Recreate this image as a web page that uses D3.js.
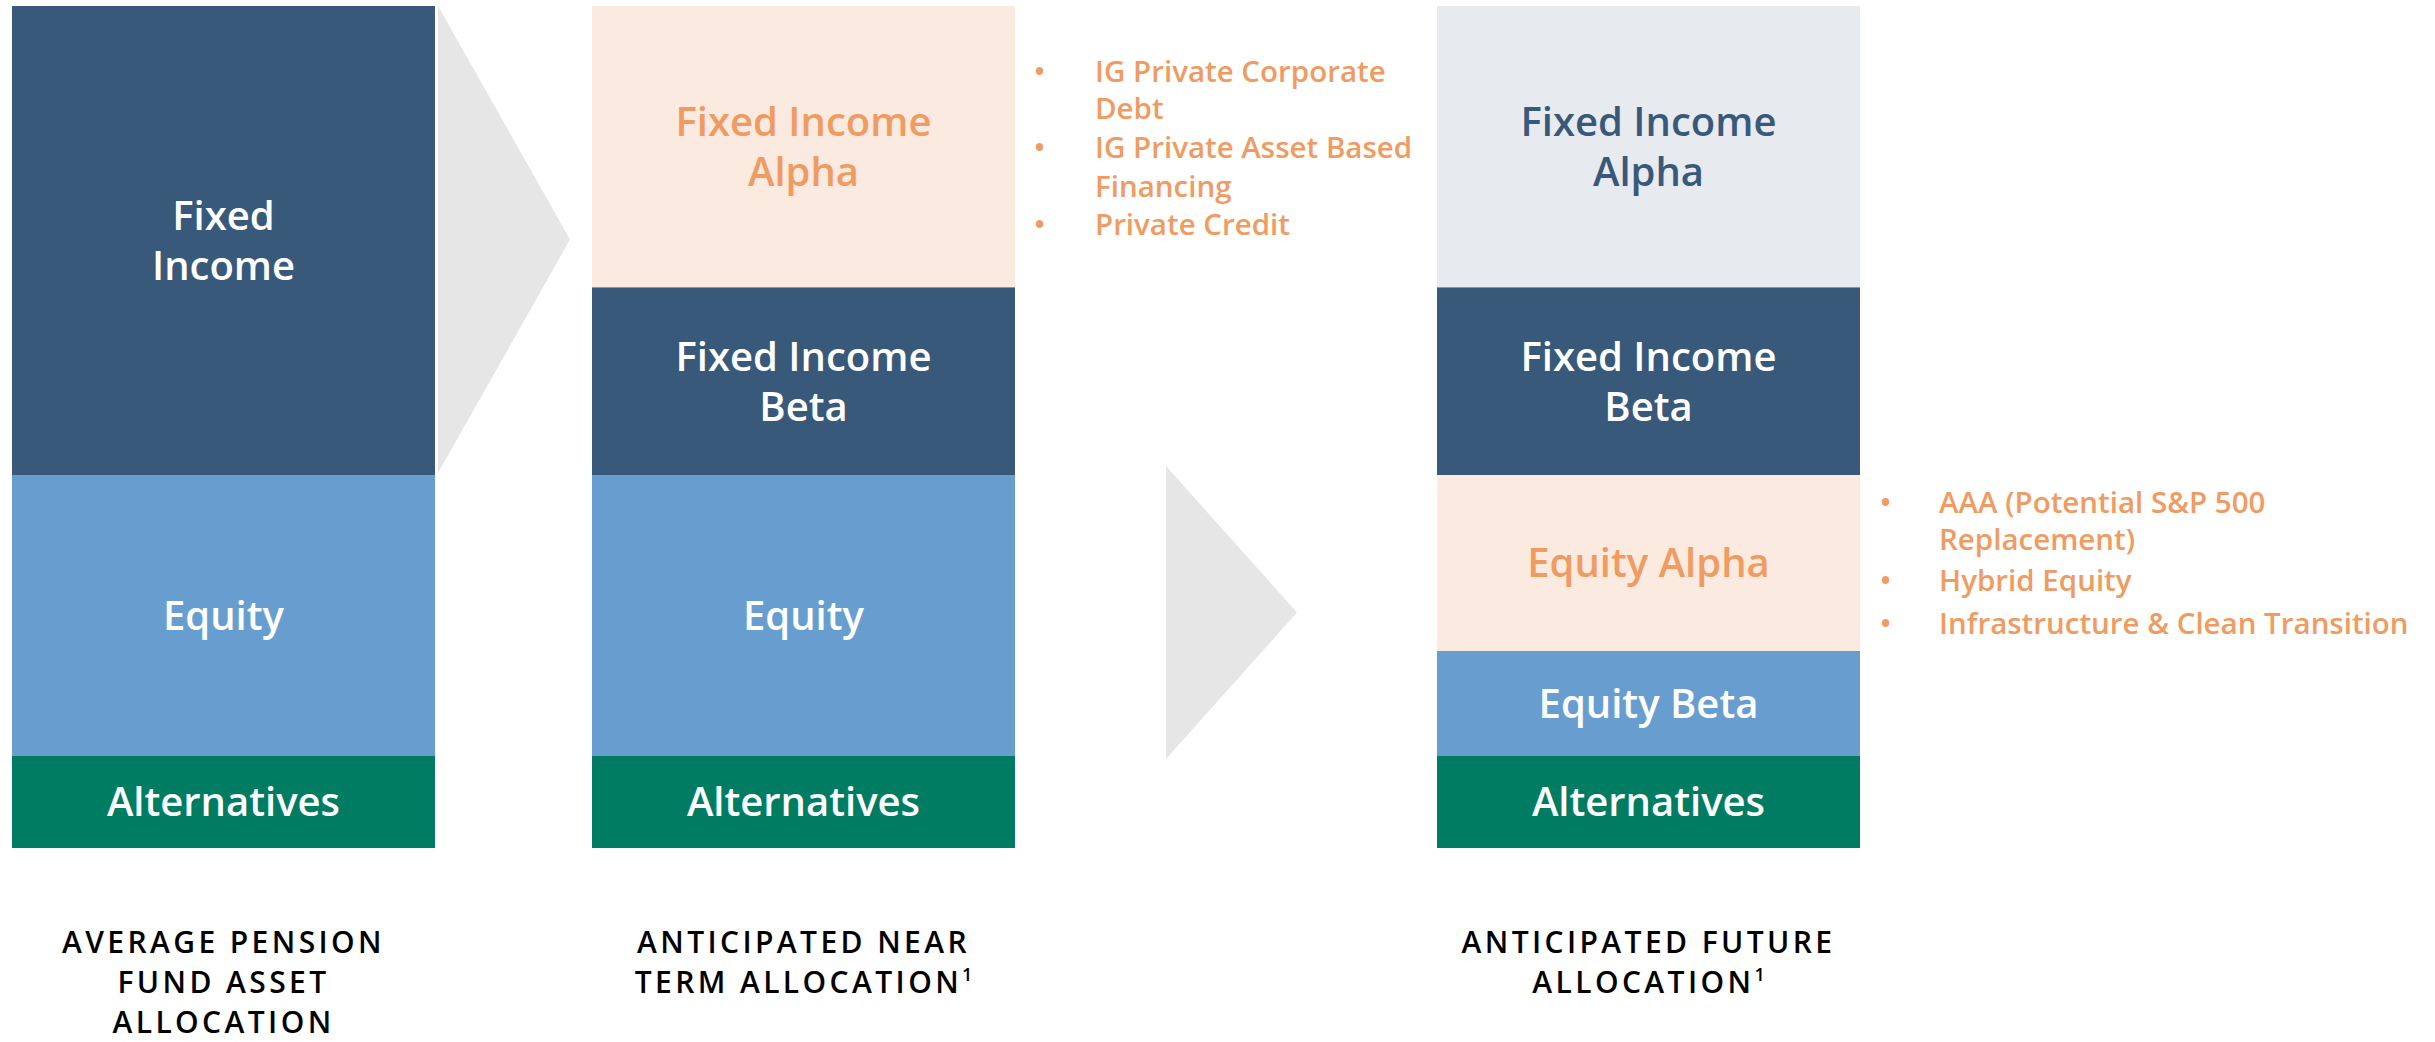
<!DOCTYPE html>
<html>
<head>
<meta charset="utf-8">
<script src="https://cdn.jsdelivr.net/npm/d3@7"></script>
<style>
  html, body { margin: 0; padding: 0; background: #ffffff; }
  svg { display: block; }
  text { font-family: "Open Sans", "Noto Sans", sans-serif; }
</style>
</head>
<body>
<svg id="chart" width="2435" height="1042"></svg>
<script>
// ---- Data ----
const columns = ["avg", "near", "future"];
const columnTitles = [
  ["AVERAGE PENSION", "FUND ASSET", "ALLOCATION"],
  ["ANTICIPATED NEAR", "TERM ALLOCATION¹"],
  ["ANTICIPATED FUTURE", "ALLOCATION¹"]
];
// segments listed bottom to top, values in % of the bar
const avgSegments = [
  { label: ["Alternatives"], value: 11.0, kind: "alt" },
  { label: ["Equity"], value: 33.3, kind: "eq" },
  { label: ["Fixed", "Income"], value: 55.7, kind: "fi" }
];
const nearSegments = [
  { label: ["Alternatives"], value: 11.0, kind: "alt" },
  { label: ["Equity"], value: 33.3, kind: "eq" },
  { label: ["Fixed Income", "Beta"], value: 22.3, kind: "fi" },
  { label: ["Fixed Income", "Alpha"], value: 33.4, kind: "alphaOrange" }
];
const futureSegments = [
  { label: ["Alternatives"], value: 11.0, kind: "alt" },
  { label: ["Equity Beta"], value: 12.4, kind: "eq" },
  { label: ["Equity Alpha"], value: 20.9, kind: "alphaOrange" },
  { label: ["Fixed Income", "Beta"], value: 22.3, kind: "fi" },
  { label: ["Fixed Income", "Alpha"], value: 33.4, kind: "alphaGray" }
];
const nearBullets = [
  ["IG Private Corporate", "Debt"],
  ["IG Private Asset Based", "Financing"],
  ["Private Credit"]
];
const futureBullets = [
  ["AAA (Potential S&P 500", "Replacement)"],
  ["Hybrid Equity"],
  ["Infrastructure & Clean Transition"]
];

// ---- Styles ----
const fills = { alt: "#007C63", eq: "#689ECF", fi: "#385979", alphaOrange: "#FBEADF", alphaGray: "#E7EAEF" };
const textColors = { alt: "#ffffff", eq: "#ffffff", fi: "#ffffff", alphaOrange: "#F09B62", alphaGray: "#385979" };
const orange = "#F09B62";

// ---- Layout ----
const svg = d3.select("#chart");
const barW = 423;
const x = d3.scaleOrdinal().domain(columns).range([12, 592, 1437]);
const y = d3.scaleLinear().domain([0, 100]).range([848, 6]);

const allSegments = { avg: avgSegments, near: nearSegments, future: futureSegments };

columns.forEach((col, ci) => {
  const segs = allSegments[col];
  let acc = 0;
  const stacked = segs.map(s => { const r = { ...s, y0: acc, y1: acc + s.value }; acc += s.value; return r; });
  const g = svg.append("g");
  g.selectAll("rect").data(stacked).join("rect")
    .attr("x", x(col))
    .attr("width", barW)
    .attr("y", d => y(d.y1))
    .attr("height", d => y(d.y0) - y(d.y1))
    .attr("fill", d => fills[d.kind]);

  const fs = 40, lh = 50;
  stacked.forEach(d => {
    const cy = (y(d.y0) + y(d.y1)) / 2;
    const n = d.label.length;
    const t = g.append("text")
      .attr("text-anchor", "middle")
      .attr("font-size", fs)
      .attr("font-weight", 600)
      .attr("fill", textColors[d.kind]);
    d.label.forEach((line, i) => {
      t.append("tspan")
        .attr("x", x(col) + barW / 2)
        .attr("y", cy + (i - (n - 1) / 2) * lh + fs * 0.36)
        .text(line);
    });
  });

  // Column title
  const title = svg.append("text")
    .attr("text-anchor", "middle")
    .attr("font-size", 30)
    .attr("font-weight", 600)
    .attr("letter-spacing", 3.4)
    .attr("fill", "#000000");
  columnTitles[ci].forEach((line, i) => {
    const sup = line.endsWith("¹");
    title.append("tspan")
      .attr("x", x(col) + barW / 2)
      .attr("y", 953 + i * 40)
      .text(sup ? line.slice(0, -1) : line);
    if (sup) {
      title.append("tspan")
        .attr("font-size", 18)
        .attr("dy", -12)
        .attr("letter-spacing", 0)
        .text("1");
    }
  });
});

// ---- Arrows ----
const arrows = [
  { x0: x("avg") + barW + 3, top: y(100), bottom: 473, w: 132 },
  { x0: 1166, top: 466, bottom: 759, w: 131 }
];
svg.selectAll("path.arrow").data(arrows).join("path")
  .attr("class", "arrow")
  .attr("fill", "#E6E6E6")
  .attr("d", d => d3.line()([[d.x0, d.top], [d.x0 + d.w, (d.top + d.bottom) / 2], [d.x0, d.bottom]]) + "Z");

// ---- Bullets ----
function drawBullets(list, bx, tx, baselines) {
  const g = svg.append("g").attr("fill", orange).attr("font-size", 29.5).attr("font-weight", 600);
  let k = 0;
  list.forEach(item => {
    g.append("text").attr("x", bx).attr("y", baselines[k]).text("•");
    item.forEach(line => {
      g.append("text").attr("x", tx).attr("y", baselines[k]).text(line);
      k++;
    });
  });
}
drawBullets(nearBullets, 1034, 1095, [82, 119, 158, 197, 235]);
drawBullets(futureBullets, 1880, 1939, [513, 550, 591, 634]);
</script>
</body>
</html>
